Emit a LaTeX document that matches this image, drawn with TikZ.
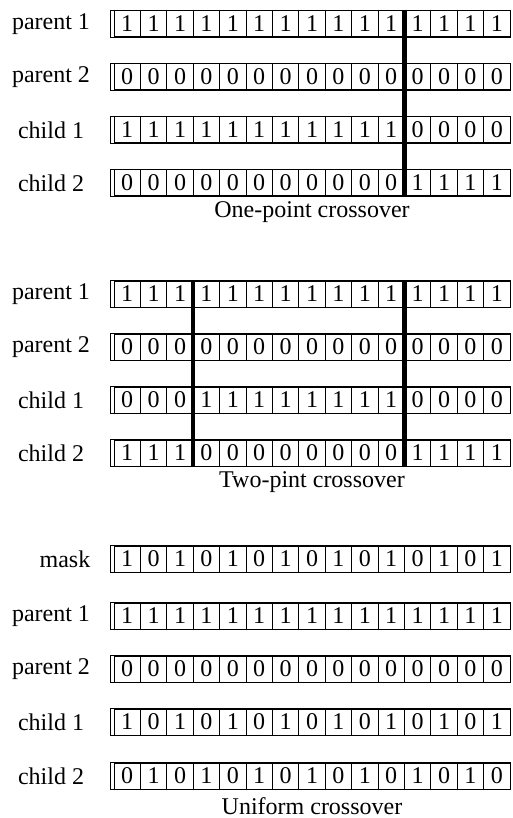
\documentclass[tikz,border=0pt]{standalone}
\usepackage{fontspec}
\setmainfont{Liberation Serif}
\tikzset{
  bit/.style={draw, line width=1pt, minimum width=26.4pt, minimum height=26pt,
    inner sep=0pt, outer sep=0pt, anchor=north west, font=\fontsize{24}{26}\selectfont},
  rowframe/.style={draw, line width=1pt},
  lab/.style={font=\fontsize{24}{26}\selectfont, inner sep=0pt},
  cutline/.style={line width=4.5pt, line cap=butt},
  title/.style={font=\fontsize{24}{26}\selectfont, inner sep=0pt}
}
\newcommand\bitrow[5]{%
  \node[lab] (#1-lab) at (#3,#2+13) {#4};
  \draw[rowframe] (110.5,#2-0.8) rectangle (510,#2+26.8);
  \foreach \b [count=\i] in {#5} {
    \node[bit] (#1-\i) at ({114+(\i-1)*26.4},#2) {\b};
  }%
}
\begin{document}
\begin{tikzpicture}[x=1pt,y=-1pt]
\useasboundingbox (0,0) rectangle (513,818);
% one-point
\bitrow{o1}{11}{51}{parent 1}{1,1,1,1,1,1,1,1,1,1,1,1,1,1,1}
\bitrow{o2}{64}{51}{parent 2}{0,0,0,0,0,0,0,0,0,0,0,0,0,0,0}
\bitrow{o3}{117}{51}{child 1}{1,1,1,1,1,1,1,1,1,1,1,0,0,0,0}
\bitrow{o4}{170}{51}{child 2}{0,0,0,0,0,0,0,0,0,0,0,1,1,1,1}
\draw[cutline] (o1-11.north east) -- (o4-11.south east);
\node[title] (t1) at (312,212) {One-point crossover};
% two-point
\bitrow{w1}{281}{51}{parent 1}{1,1,1,1,1,1,1,1,1,1,1,1,1,1,1}
\bitrow{w2}{334}{51}{parent 2}{0,0,0,0,0,0,0,0,0,0,0,0,0,0,0}
\bitrow{w3}{387}{51}{child 1}{0,0,0,1,1,1,1,1,1,1,1,0,0,0,0}
\bitrow{w4}{440}{51}{child 2}{1,1,1,0,0,0,0,0,0,0,0,1,1,1,1}
\draw[cutline] (w1-3.north east) -- (w4-3.south east);
\draw[cutline] (w1-11.north east) -- (w4-11.south east);
\node[title] (t2) at (312,482) {Two-pint crossover};
% uniform
\bitrow{u0}{546}{65}{mask}{1,0,1,0,1,0,1,0,1,0,1,0,1,0,1}
\bitrow{u1}{603}{51}{parent 1}{1,1,1,1,1,1,1,1,1,1,1,1,1,1,1}
\bitrow{u2}{656}{51}{parent 2}{0,0,0,0,0,0,0,0,0,0,0,0,0,0,0}
\bitrow{u3}{709}{51}{child 1}{1,0,1,0,1,0,1,0,1,0,1,0,1,0,1}
\bitrow{u4}{763}{51}{child 2}{0,1,0,1,0,1,0,1,0,1,0,1,0,1,0}
\node[title] (t3) at (312,806) {Uniform crossover};
\end{tikzpicture}
\end{document}
